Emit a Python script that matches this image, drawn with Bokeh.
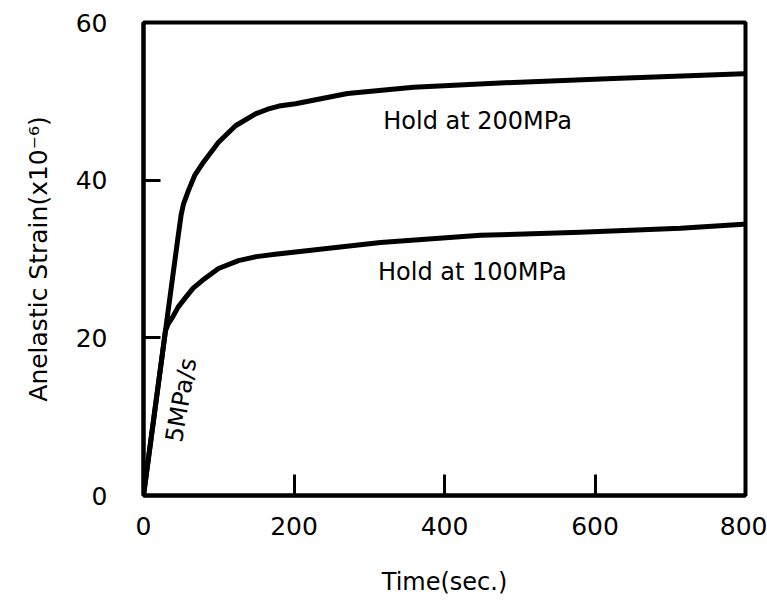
from bokeh.plotting import figure
from bokeh.models import Label, FixedTicker, Range1d
from bokeh.embed import file_html
from bokeh.resources import INLINE

# ---- data ----
time_200 = [0, 29.2, 45.2, 50.0, 53.2, 59.8, 68.0, 78.4, 99.7, 122.3, 148.8, 165.0, 180.0, 202, 271.1, 358.8, 491.7, 624.6, 797.3]
strain_200 = [0, 20.9, 32.3, 35.6, 37.0, 38.7, 40.6, 42.1, 44.8, 46.9, 48.4, 49.0, 49.4, 49.7, 51.0, 51.8, 52.4, 52.9, 53.5]

time_100 = [0, 29.2, 33.0, 38.5, 46.0, 55.8, 66.0, 78.4, 99.7, 126.2, 150.0, 175.0, 202, 315, 447.8, 580.7, 713.6, 797.3]
strain_100 = [0, 20.9, 21.8, 22.6, 23.9, 25.1, 26.3, 27.3, 28.8, 29.8, 30.3, 30.6, 30.9, 32.1, 33.0, 33.4, 33.9, 34.4]

x_ticks = [0, 200, 400, 600, 800]
y_ticks = [0, 20, 40, 60]

label_200 = "Hold at 200MPa"
label_100 = "Hold at 100MPa"
label_rate = "5MPa/s"

FONT = "DejaVu Sans"

p = figure(width=767, height=602, output_backend="svg", toolbar_location=None,
           x_range=Range1d(0, 800), y_range=Range1d(0, 60),
           min_border_left=143, min_border_right=22, min_border_top=22, min_border_bottom=107)

p.background_fill_color = "white"
p.border_fill_color = "white"
p.grid.visible = False
p.outline_line_color = "black"
p.outline_line_width = 4

p.line(time_200, strain_200, line_color="black", line_width=5, line_join="round", line_cap="round")
p.line(time_100, strain_100, line_color="black", line_width=5, line_join="round", line_cap="round")

# axes
p.xaxis.ticker = FixedTicker(ticks=x_ticks)
p.yaxis.ticker = FixedTicker(ticks=y_ticks)
for ax in (p.xaxis, p.yaxis):
    ax.axis_line_color = "black"
    ax.axis_line_width = 4
    ax.major_tick_out = 0
    ax.minor_tick_in = 0
    ax.minor_tick_out = 0
    ax.major_tick_line_color = "black"
    ax.major_tick_line_width = 3
    ax.major_label_text_font = FONT
    ax.major_label_text_font_size = "25px"
    ax.major_label_text_color = "black"
    ax.axis_label_text_font = FONT
    ax.axis_label_text_font_style = "normal"
    ax.axis_label_text_color = "black"

p.xaxis.major_tick_in = 21
p.yaxis.major_tick_in = 17
p.xaxis.major_label_standoff = 21
p.yaxis.major_label_standoff = 36

p.xaxis.axis_label = "Time(sec.)"
p.xaxis.axis_label_text_font_size = "24px"
p.xaxis.axis_label_standoff = 30

p.yaxis.axis_label = "Anelastic Strain(x10\u207b\u2076)"
p.yaxis.axis_label_text_font_size = "25px"
p.yaxis.axis_label_standoff = 20

# annotations
p.add_layout(Label(x=444, y=47.5, text=label_200, text_font=FONT, text_font_size="24px",
                   text_align="center", text_baseline="middle", text_color="black"))
p.add_layout(Label(x=437, y=28.3, text=label_100, text_font=FONT, text_font_size="24px",
                   text_align="center", text_baseline="middle", text_color="black"))
p.add_layout(Label(x=50, y=12.1, text=label_rate, text_font=FONT, text_font_size="24px",
                   angle=80, angle_units="deg",
                   text_align="center", text_baseline="middle", text_color="black"))

open("out.html", "w").write(file_html(p, INLINE))
